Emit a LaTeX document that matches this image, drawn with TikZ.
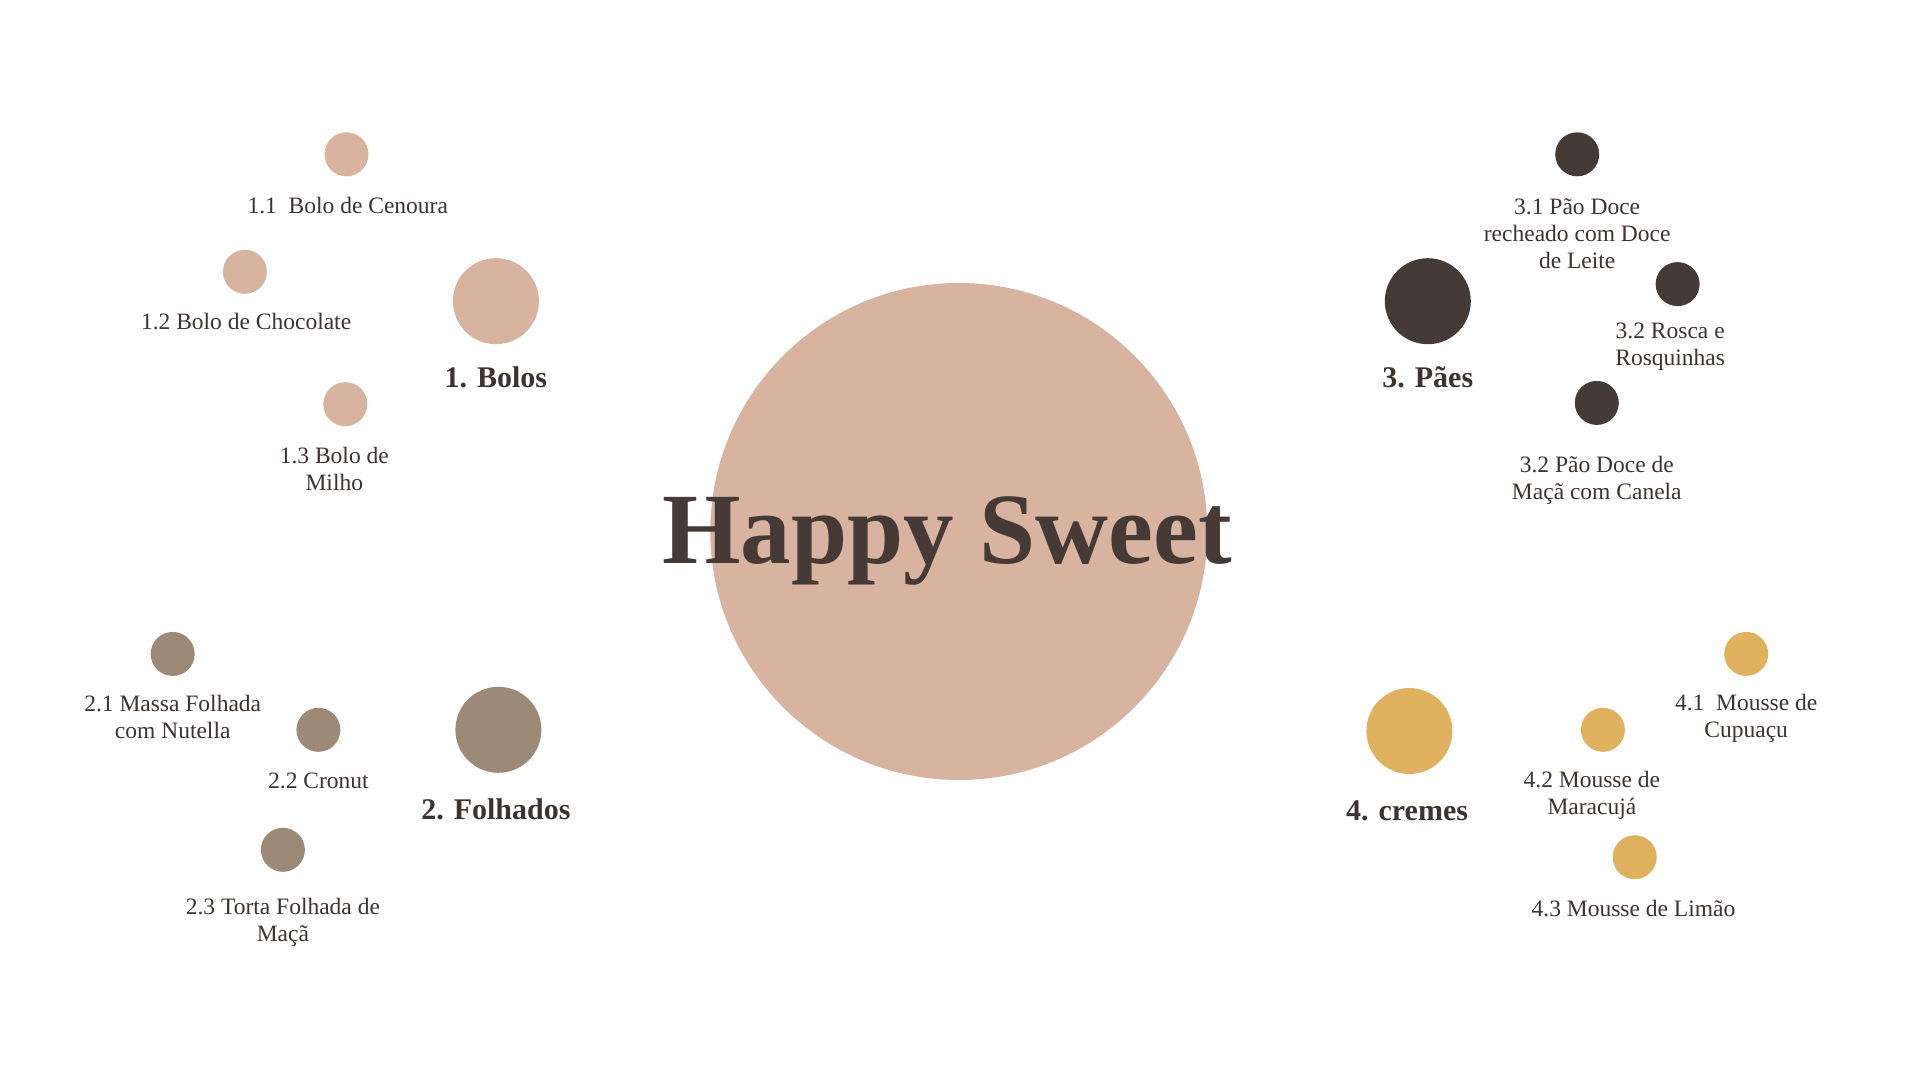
\documentclass[tikz,border=0pt]{standalone}
\usepackage{fontspec}
\setmainfont{Liberation Serif}
\definecolor{bolos}{HTML}{D8B4A0}
\definecolor{folh}{HTML}{9C8A76}
\definecolor{paes}{HTML}{463A37}
\definecolor{cremes}{HTML}{E0B260}
\definecolor{ink}{HTML}{3D3430}
\definecolor{title}{HTML}{463A37}
\tikzset{
  big/.style={circle, inner sep=0pt, minimum size=86pt},
  small/.style={circle, inner sep=0pt, minimum size=44pt},
  lbl/.style={text=ink, align=center, inner sep=0pt, yshift=-2pt, font=\fontsize{23.5}{27}\selectfont},
  head/.style={text=ink, inner sep=0pt, font=\fontsize{30}{34}\selectfont\bfseries},
}
\begin{document}
\begin{tikzpicture}[x=1pt,y=-1pt]
\fill[white] (0,0) rectangle (1920,1080);
\useasboundingbox (0,0) rectangle (1920,1080);

% centre
\node[circle, fill=bolos, inner sep=0pt, minimum size=497pt] (hub) at (958.8,531.5) {};
\node[text=title, inner sep=0pt, anchor=base, font=\fontsize{101}{110}\selectfont\bfseries] (title) at (947,563) {Happy Sweet};

% 1. Bolos
\node[big, fill=bolos] (b) at (495.9,301.2) {};
\node[head] (bl) at (495.9,377.1) {1. Bolos};
\node[small, fill=bolos] (b1) at (346.5,154.3) {};
\node[lbl] (b1l) at (347.8,203.3) {1.1\ \ Bolo de Cenoura};
\node[small, fill=bolos] (b2) at (244.9,271.8) {};
\node[lbl] (b2l) at (246.1,319.6) {1.2 Bolo de Chocolate};
\node[small, fill=bolos] (b3) at (345.3,404.1) {};
\node[lbl] (b3l) at (334.3,466.5) {1.3 Bolo de\\Milho};

% 2. Folhados
\node[big, fill=folh] (f) at (498.4,729.8) {};
\node[head] (fl) at (495.9,809.4) {2. Folhados};
\node[small, fill=folh] (f1) at (172.7,653.9) {};
\node[lbl] (f1l) at (172.7,715.1) {2.1 Massa Folhada\\com Nutella};
\node[small, fill=folh] (f2) at (318.4,729.8) {};
\node[lbl] (f2l) at (318.4,778.8) {2.2 Cronut};
\node[small, fill=folh] (f3) at (282.9,849.8) {};
\node[lbl] (f3l) at (282.9,920.8) {2.3 Torta Folhada de\\Maçã};

% 3. Paes
\node[big, fill=paes] (p) at (1427.8,301.2) {};
\node[head] (pl) at (1427.8,377.1) {3. Pães};
\node[small, fill=paes] (p1) at (1577.2,154.3) {};
\node[lbl] (p1l) at (1577.2,231.4) {3.1 Pão Doce\\recheado com Doce\\de Leite};
\node[small, fill=paes] (p2) at (1677.6,284.1) {};
\node[lbl] (p2l) at (1670.2,345) {3.2 Rosca e\\Rosquinhas};
\node[small, fill=paes] (p3) at (1596.8,402.9) {};
\node[lbl] (p3l) at (1596.8,478.2) {3.2 Pão Doce de\\Maçã com Canela};

% 4. cremes
\node[big, fill=cremes] (c) at (1409.4,731.0) {};
\node[head] (cl) at (1407,810.6) {4. cremes};
\node[small, fill=cremes] (c1) at (1746.2,653.9) {};
\node[lbl] (c1l) at (1746.2,716.3) {4.1\ \ Mousse de\\Cupuaçu};
\node[small, fill=cremes] (c2) at (1602.9,729.8) {};
\node[lbl] (c2l) at (1591.9,793.5) {4.2 Mousse de\\Maracujá};
\node[small, fill=cremes] (c3) at (1634.7,857.2) {};
\node[lbl] (c3l) at (1633.5,906.2) {4.3 Mousse de Limão};
\end{tikzpicture}
\end{document}
